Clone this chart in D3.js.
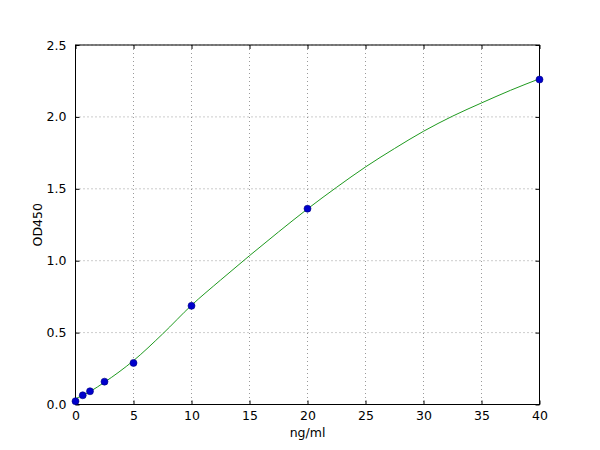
<!DOCTYPE html>
<html>
<head>
<meta charset="utf-8">
<script src="https://cdn.jsdelivr.net/npm/d3@7"></script>
<style>
  body { margin: 0; background: #fff; }
  text { font-family: "DejaVu Sans", sans-serif; font-size: 12.5px; fill: #000; }
</style>
</head>
<body>
<script>
// standard points (ng/ml, OD450)
const conc = [0, 0.625, 1.25, 2.5, 5, 10, 20, 40]
const od = [0.023, 0.064, 0.092, 0.159, 0.289, 0.686, 1.362, 2.26]

// fitted curve
const curveX = [0, 1.25, 2.5, 5, 7.5, 10, 12.5, 15, 17.5, 20, 22.5, 25, 27.5, 30, 32.5, 35, 37.5, 40]
const curveY = [0.04, 0.09, 0.155, 0.305, 0.49, 0.69, 0.865, 1.035, 1.2, 1.36, 1.51, 1.652, 1.78, 1.9, 2.005, 2.097, 2.185, 2.265]

const xTicks = [0, 5, 10, 15, 20, 25, 30, 35, 40]
const yTicks = [0, 0.5, 1.0, 1.5, 2.0, 2.5]

const width = 600, height = 450
const plot = { left: 75.5, right: 539.5, top: 45, bottom: 404.5 }

const x = d3.scaleLinear().domain([0, 40]).range([plot.left, plot.right])
const y = d3.scaleLinear().domain([0, 2.5]).range([plot.bottom, plot.top])

const svg = d3.select("body")
              .append("svg")
              .attr("width", width)
              .attr("height", height)

// grid
svg.append("g")
   .selectAll("line")
   .data(xTicks)
   .enter()
   .append("line")
   .attr("x1", d => x(d)).attr("x2", d => x(d))
   .attr("y1", plot.top).attr("y2", plot.bottom)
   .attr("stroke", "#555").attr("stroke-width", 0.6)
   .attr("stroke-dasharray", "1,3")

svg.append("g")
   .selectAll("line")
   .data(yTicks)
   .enter()
   .append("line")
   .attr("x1", plot.left).attr("x2", plot.right)
   .attr("y1", d => y(d)).attr("y2", d => y(d))
   .attr("stroke", "#555").attr("stroke-width", 0.6)
   .attr("stroke-dasharray", "1,3")

// axes with inward ticks on all four sides
const fmtY = d3.format(".1f")
const axisB = svg.append("g").attr("transform", `translate(0,${plot.bottom})`)
  .call(d3.axisBottom(x).tickValues(xTicks).tickSizeInner(-4).tickSizeOuter(0).tickPadding(7))
const axisT = svg.append("g").attr("transform", `translate(0,${plot.top})`)
  .call(d3.axisTop(x).tickValues(xTicks).tickSizeInner(-4).tickSizeOuter(0).tickFormat(""))
const axisL = svg.append("g").attr("transform", `translate(${plot.left},0)`)
  .call(d3.axisLeft(y).tickValues(yTicks).tickSizeInner(-4).tickSizeOuter(0).tickPadding(9).tickFormat(fmtY))
const axisR = svg.append("g").attr("transform", `translate(${plot.right},0)`)
  .call(d3.axisRight(y).tickValues(yTicks).tickSizeInner(-4).tickSizeOuter(0).tickFormat(""))

for (const g of [axisB, axisT, axisL, axisR]) {
  g.select(".domain").remove()
  g.selectAll("line").attr("stroke", "#000")
  g.selectAll("text").attr("font-size", "12.5px").attr("font-family", "DejaVu Sans")
}

// fitted curve
const line = d3.line()
  .x((d, i) => x(curveX[i]))
  .y(d => y(d))
  .curve(d3.curveMonotoneX)

svg.append("path")
   .datum(curveY)
   .attr("d", line)
   .attr("fill", "none")
   .attr("stroke", "#1f9a1f")
   .attr("stroke-width", 1)

// frame
svg.append("rect")
   .attr("x", plot.left).attr("y", plot.top)
   .attr("width", plot.right - plot.left)
   .attr("height", plot.bottom - plot.top)
   .attr("fill", "none")
   .attr("stroke", "#000")
   .attr("stroke-width", 1)

// points
svg.append("g")
   .selectAll("circle")
   .data(od)
   .enter()
   .append("circle")
   .attr("cx", (d, i) => x(conc[i]))
   .attr("cy", d => y(d))
   .attr("r", 3.5)
   .attr("fill", "#0000cc")
   .attr("stroke", "#000080")
   .attr("stroke-width", 0.6)

// labels
svg.append("text")
   .attr("x", (plot.left + plot.right) / 2)
   .attr("y", 437)
   .attr("text-anchor", "middle")
   .text("ng/ml")

svg.append("text")
   .attr("transform", `translate(42,${(plot.top + plot.bottom) / 2}) rotate(-90)`)
   .attr("text-anchor", "middle")
   .text("OD450")
</script>
</body>
</html>
